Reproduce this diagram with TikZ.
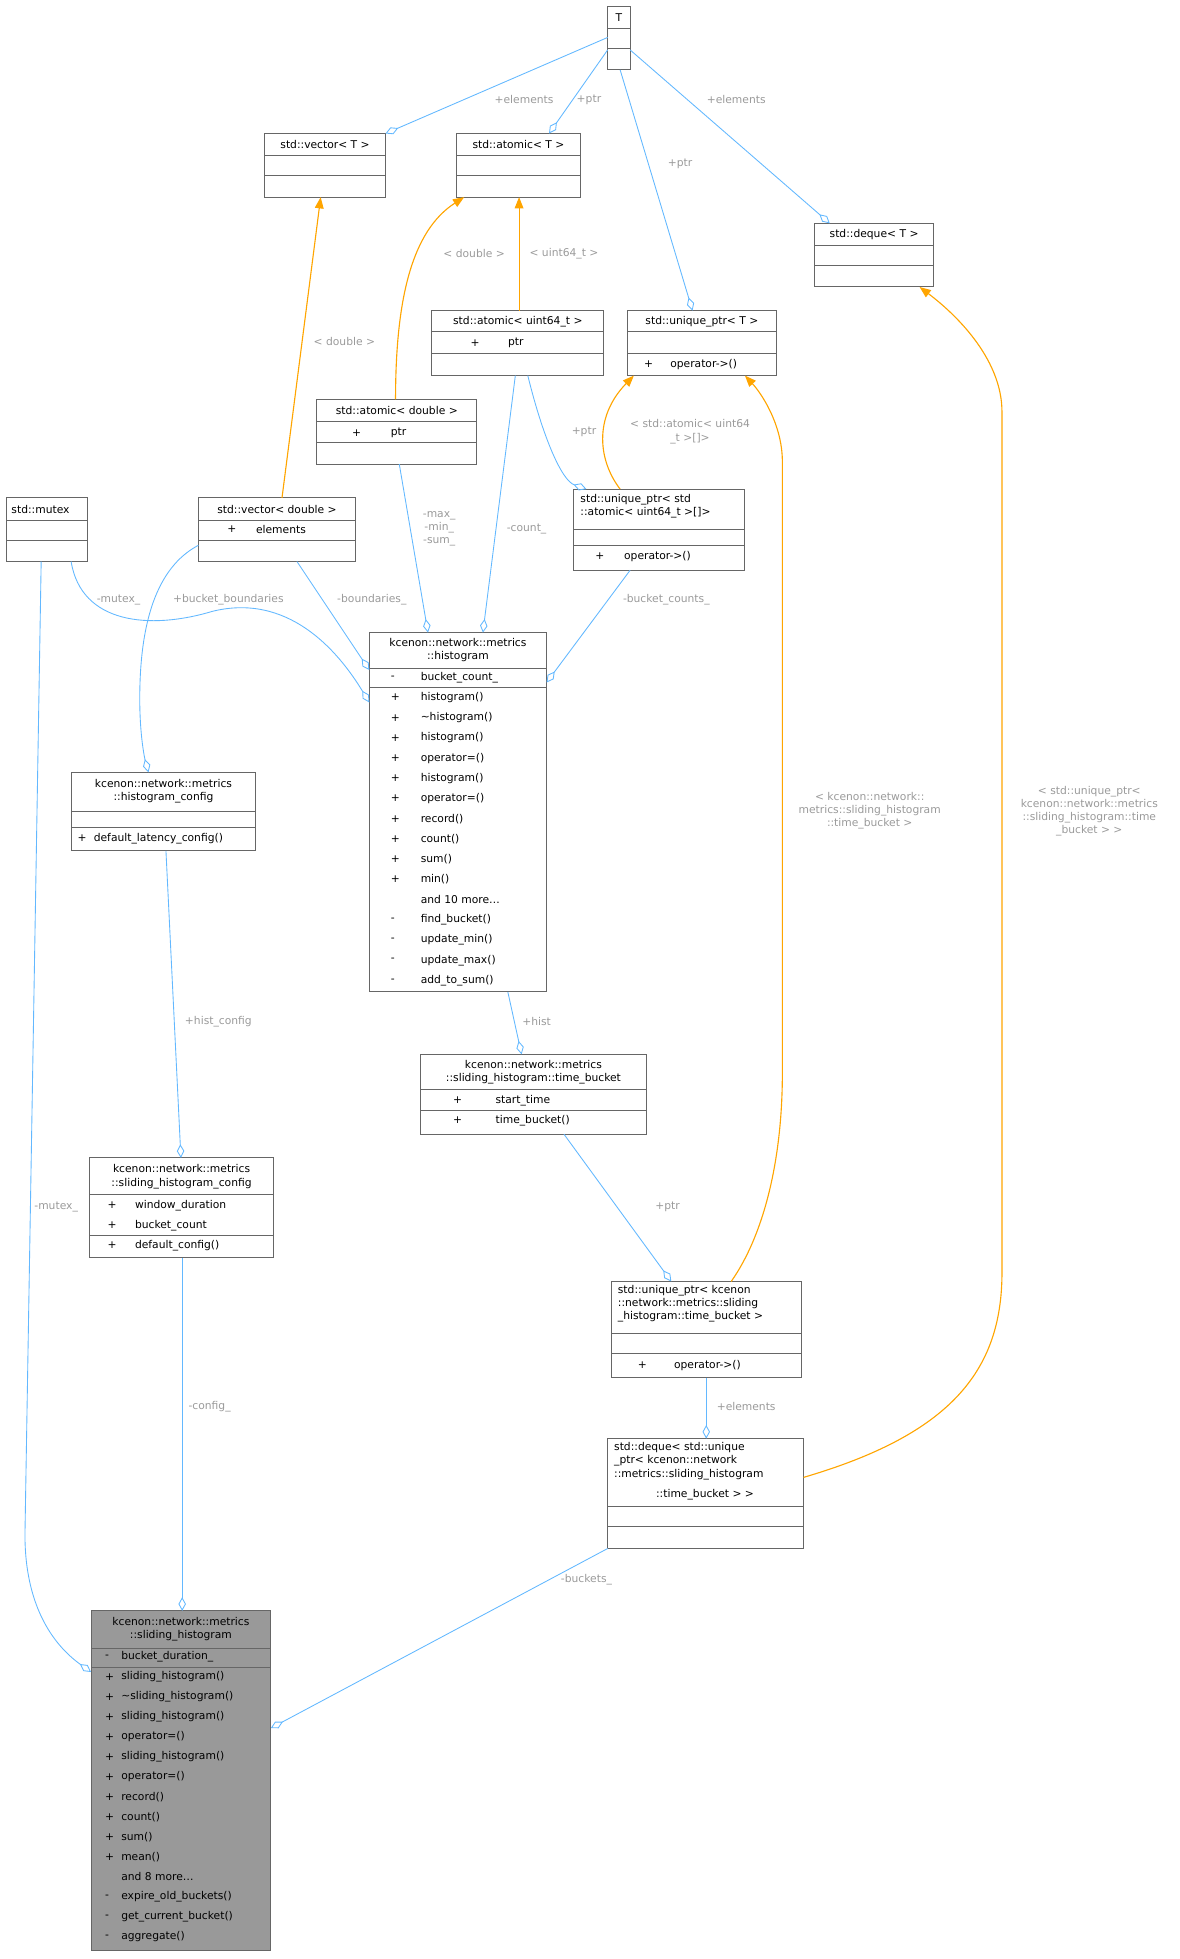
\documentclass[tikz,border=0pt]{standalone}
\usepackage{fontspec}
\setmainfont{DejaVu Sans}
\usetikzlibrary{arrows.meta}
\definecolor{eblue}{HTML}{63B8FF}
\definecolor{eorange}{HTML}{FFA500}
\definecolor{lgray}{HTML}{9A9A9A}
\definecolor{bord}{HTML}{666666}
\tikzset{
 box/.style={draw=bord,line width=0.8pt,fill=white,anchor=north west,inner sep=0,outer sep=0},
 tt/.style={font=\fontsize{8.6}{10.5}\selectfont,align=center,inner sep=0},
 mt/.style={font=\fontsize{8.6}{10.5}\selectfont,inner sep=0,anchor=west},
 sep/.style={draw=bord,line width=0.8pt},
 lab/.style={font=\fontsize{8.6}{10.5}\selectfont,text=lgray,align=center,inner sep=0},
 agg/.style={draw=eblue,line width=0.7pt,-{Diamond[open,length=11pt,width=6pt]}},
 inst/.style={draw=eorange,line width=0.9pt,-{Triangle[length=9pt,width=7pt]}},
}
\newcommand\ubox[6]{\node[box,minimum width=#4pt,minimum height=#5pt,#6] (#1) at (#2,#3) {};}
\newcommand\hs[3]{\draw[sep] (#1,#3)--(#2,#3);}
\newcommand\mr[5]{\node[mt] at (#1,#3) {#4}; \node[mt] at (#2,#3) {#5};}
\begin{document}
\begin{tikzpicture}[x=1pt,y=-1pt]
\useasboundingbox (0,0) rectangle (945,1570);
% T
\ubox{T}{487}{5}{18}{51}{}
\node[tt] at (496,14) {T}; \hs{487}{505}{23}\hs{487}{505}{39}
% vector<T>
\ubox{vecT}{212}{107}{97}{51}{}
\node[tt] at (260.5,116) {std::vector< T >}; \hs{212}{309}{125}\hs{212}{309}{141}
% atomic<T>
\ubox{atomT}{366}{107}{99}{51}{}
\node[tt] at (415.5,116) {std::atomic< T >}; \hs{366}{465}{125}\hs{366}{465}{141}
% deque<T>
\ubox{dequeT}{653}{179}{95}{51}{}
\node[tt] at (700.5,188) {std::deque< T >}; \hs{653}{748}{197}\hs{653}{748}{213}
% unique_ptr<T>
\ubox{uptrT}{503}{249}{119}{52}{}
\node[tt] at (562.5,258) {std::unique\_ptr< T >}; \hs{503}{622}{266}\hs{503}{622}{283}
\mr{516}{537}{292}{+}{operator->()}
% atomic<uint64_t>
\ubox{atomU}{346}{249}{138}{52}{}
\node[tt] at (415,258) {std::atomic< uint64\_t >}; \hs{346}{484}{266}\hs{346}{484}{283}
\mr{377}{407}{275}{+}{ptr}
% atomic<double>
\ubox{atomD}{254}{320}{128}{52}{}
\node[tt] at (318,329) {std::atomic< double >}; \hs{254}{382}{338}\hs{254}{382}{355}
\mr{282}{313}{347}{+}{ptr}
% mutex
\ubox{mutex}{5}{399}{65}{51}{}
\node[tt,anchor=west] at (9,408) {std::mutex}; \hs{5}{70}{417}\hs{5}{70}{433}
% vector<double>
\ubox{vecD}{159}{399}{126}{51}{}
\node[tt] at (222,408) {std::vector< double >}; \hs{159}{285}{417}\hs{159}{285}{433}
\mr{182}{205}{424}{+}{elements}
% unique_ptr<atomic[]>
\ubox{uptrA}{460}{392}{137}{65}{}
\node[tt,align=left,anchor=north west] at (465,396) {std::unique\_ptr< std\\::atomic< uint64\_t >[]>};
\hs{460}{597}{424}\hs{460}{597}{437}
\mr{477}{500}{446}{+}{operator->()}
% histogram
\ubox{hist}{296}{507}{142}{288}{}
\node[tt] at (367,521) {kcenon::network::metrics\\::histogram};
\hs{296}{438}{536}\hs{296}{438}{551}
\mr{313}{337}{543}{-}{bucket\_count\_}
\foreach \s/\n [count=\i from 0] in {+/{histogram()},+/{\textasciitilde histogram()},+/{histogram()},+/{operator=()},+/{histogram()},+/{operator=()},+/{record()},+/{count()},+/{sum()},+/{min()},{}/{and 10 more\ldots},-/{find\_bucket()},-/{update\_min()},-/{update\_max()},-/{add\_to\_sum()}}
 {\mr{313}{337}{559+16.2*\i}{\s}{\n}}
% histogram_config
\ubox{hcfg}{57}{619}{148}{63}{}
\node[tt] at (131,634) {kcenon::network::metrics\\::histogram\_config};
\hs{57}{205}{650}\hs{57}{205}{663}
\mr{62}{75}{672}{+}{default\_latency\_config()}
% time_bucket
\ubox{tb}{337}{845}{181}{64}{}
\node[tt] at (427.5,859) {kcenon::network::metrics\\::sliding\_histogram::time\_bucket};
\hs{337}{518}{873}\hs{337}{518}{890}
\mr{363}{397}{882}{+}{start\_time}
\mr{363}{397}{898}{+}{time\_bucket()}
% sliding_histogram_config
\ubox{shcfg}{72}{928}{147}{80}{}
\node[tt] at (145.5,943) {kcenon::network::metrics\\::sliding\_histogram\_config};
\hs{72}{219}{957}\hs{72}{219}{990}
\mr{86}{108}{966}{+}{window\_duration}
\mr{86}{108}{982}{+}{bucket\_count}
\mr{86}{108}{998}{+}{default\_config()}
% unique_ptr<time_bucket>
\ubox{uptrTB}{490}{1027}{152}{77}{}
\node[tt,align=left,anchor=north west] at (495,1030) {std::unique\_ptr< kcenon\\::network::metrics::sliding\\\_histogram::time\_bucket >};
\hs{490}{642}{1069}\hs{490}{642}{1085}
\mr{511}{540}{1094}{+}{operator->()}
% deque<...>
\ubox{dequeTB}{487}{1153}{157}{88}{}
\node[tt,align=left,anchor=north west] at (492,1156) {std::deque< std::unique\\\_ptr< kcenon::network\\::metrics::sliding\_histogram};
\node[tt] at (565,1198) {::time\_bucket > >};
\hs{487}{644}{1207}\hs{487}{644}{1223}
% sliding_histogram
\ubox{sh}{73}{1291}{144}{272}{fill=black!40}
\node[tt] at (145,1306) {kcenon::network::metrics\\::sliding\_histogram};
\hs{73}{217}{1321}\hs{73}{217}{1336}
\mr{84}{97}{1328}{-}{bucket\_duration\_}
\foreach \s/\n [count=\i from 0] in {+/{sliding\_histogram()},+/{\textasciitilde sliding\_histogram()},+/{sliding\_histogram()},+/{operator=()},+/{sliding\_histogram()},+/{operator=()},+/{record()},+/{count()},+/{sum()},+/{mean()},{}/{and 8 more\ldots},-/{expire\_old\_buckets()},-/{get\_current\_bucket()},-/{aggregate()}}
 {\mr{84}{97}{1344+16*\i}{\s}{\n}}
% ---- edges
\draw[agg] ([shift={(0,25)}]T.north west) -- ([shift={(97,0)}]vecT.north west);
\draw[agg] ([shift={(0,35)}]T.north west) -- ([shift={(74,0)}]atomT.north west);
\draw[agg] ([shift={(10,51)}]T.north west) -- ([shift={(52,0)}]uptrT.north west);
\draw[agg] ([shift={(18,35)}]T.north west) -- ([shift={(12,0)}]dequeT.north west);
\draw[inst] ([shift={(67,0)}]vecD.north west) -- ([shift={(45,51)}]vecT.north west);
\draw[inst] ([shift={(63,0)}]atomD.north west) .. controls (317,240) and (330,185) .. ([shift={(6,51)}]atomT.north west);
\draw[inst] ([shift={(70,0)}]atomU.north west) -- ([shift={(50,51)}]atomT.north west);
\draw[inst] ([shift={(37,0)}]uptrA.north west) .. controls (480,370) and (475,335) .. ([shift={(5,52)}]uptrT.north west);
\draw[inst] ([shift={(96,0)}]uptrTB.north west) .. controls (612,990) and (627,930) .. (627,860) -- (627,370) .. controls (627,340) and (610,315) .. ([shift={(94,52)}]uptrT.north west);
\draw[inst] ([shift={(157,31)}]dequeTB.north west) .. controls (760,1150) and (803,1100) .. (803,1020) -- (803,330) .. controls (803,290) and (770,255) .. ([shift={(84,51)}]dequeT.north west);
\draw[agg] ([shift={(66,52)}]atomD.north west) -- ([shift={(47,0)}]hist.north west);
\draw[agg] ([shift={(67,52)}]atomU.north west) -- ([shift={(91,0)}]hist.north west);
\draw[agg] ([shift={(77,52)}]atomU.north west) .. controls (435,350) and (450,385) .. ([shift={(10,0)}]uptrA.north west);
\draw[agg] ([shift={(52,51)}]mutex.north west) .. controls (65,500) and (120,505) .. (170,490) .. controls (230,475) and (270,520) .. ([shift={(0,56)}]hist.north west);
\draw[agg] ([shift={(79,51)}]vecD.north west) -- ([shift={(0,30)}]hist.north west);
\draw[agg] ([shift={(0,38)}]vecD.north west) .. controls (125,455) and (112,500) .. (112,560) .. controls (112,590) and (116,608) .. ([shift={(62,0)}]hcfg.north west);
\draw[agg] ([shift={(45,65)}]uptrA.north west) -- ([shift={(142,40)}]hist.north west);
\draw[agg] ([shift={(111,288)}]hist.north west) -- ([shift={(81,0)}]tb.north west);
\draw[agg] ([shift={(76,63)}]hcfg.north west) -- ([shift={(73,0)}]shcfg.north west);
\draw[agg] ([shift={(115,64)}]tb.north west) -- ([shift={(48,0)}]uptrTB.north west);
\draw[agg] ([shift={(76,77)}]uptrTB.north west) -- ([shift={(79,0)}]dequeTB.north west);
\draw[agg] ([shift={(74,80)}]shcfg.north west) -- ([shift={(73,0)}]sh.north west);
\draw[agg] ([shift={(28,51)}]mutex.north west) -- (20,1230) .. controls (20,1290) and (45,1320) .. ([shift={(0,49)}]sh.north west);
\draw[agg] ([shift={(0,88)}]dequeTB.north west) -- ([shift={(144,94)}]sh.north west);
% ---- labels
\node[lab] at (420,80) {+elements};
\node[lab] at (472,80) {+ptr};
\node[lab] at (545,131) {+ptr};
\node[lab] at (590,80) {+elements};
\node[lab] at (276,274) {< double >};
\node[lab] at (380,203) {< double >};
\node[lab] at (452,203) {< uint64\_t >};
\node[lab] at (553,346) {< std::atomic< uint64\\\_t >[]>};
\node[lab] at (697,650) {< kcenon::network::\\metrics::sliding\_histogram\\::time\_bucket >};
\node[lab] at (873,650) {< std::unique\_ptr<\\kcenon::network::metrics\\::sliding\_histogram::time\\\_bucket > >};
\node[lab] at (352,424) {-max\_\\-min\_\\-sum\_};
\node[lab] at (422,424) {-count\_};
\node[lab] at (468,346) {+ptr};
\node[lab] at (95,481) {-mutex\_};
\node[lab] at (298,481) {-boundaries\_};
\node[lab] at (183,481) {+bucket\_boundaries};
\node[lab] at (534,481) {-bucket\_counts\_};
\node[lab] at (430,819) {+hist};
\node[lab] at (175,819) {+hist\_config};
\node[lab] at (535,967) {+ptr};
\node[lab] at (598,1127) {+elements};
\node[lab] at (168,1127) {-config\_};
\node[lab] at (45,967) {-mutex\_};
\node[lab] at (470,1266) {-buckets\_};
\end{tikzpicture}
\end{document}
